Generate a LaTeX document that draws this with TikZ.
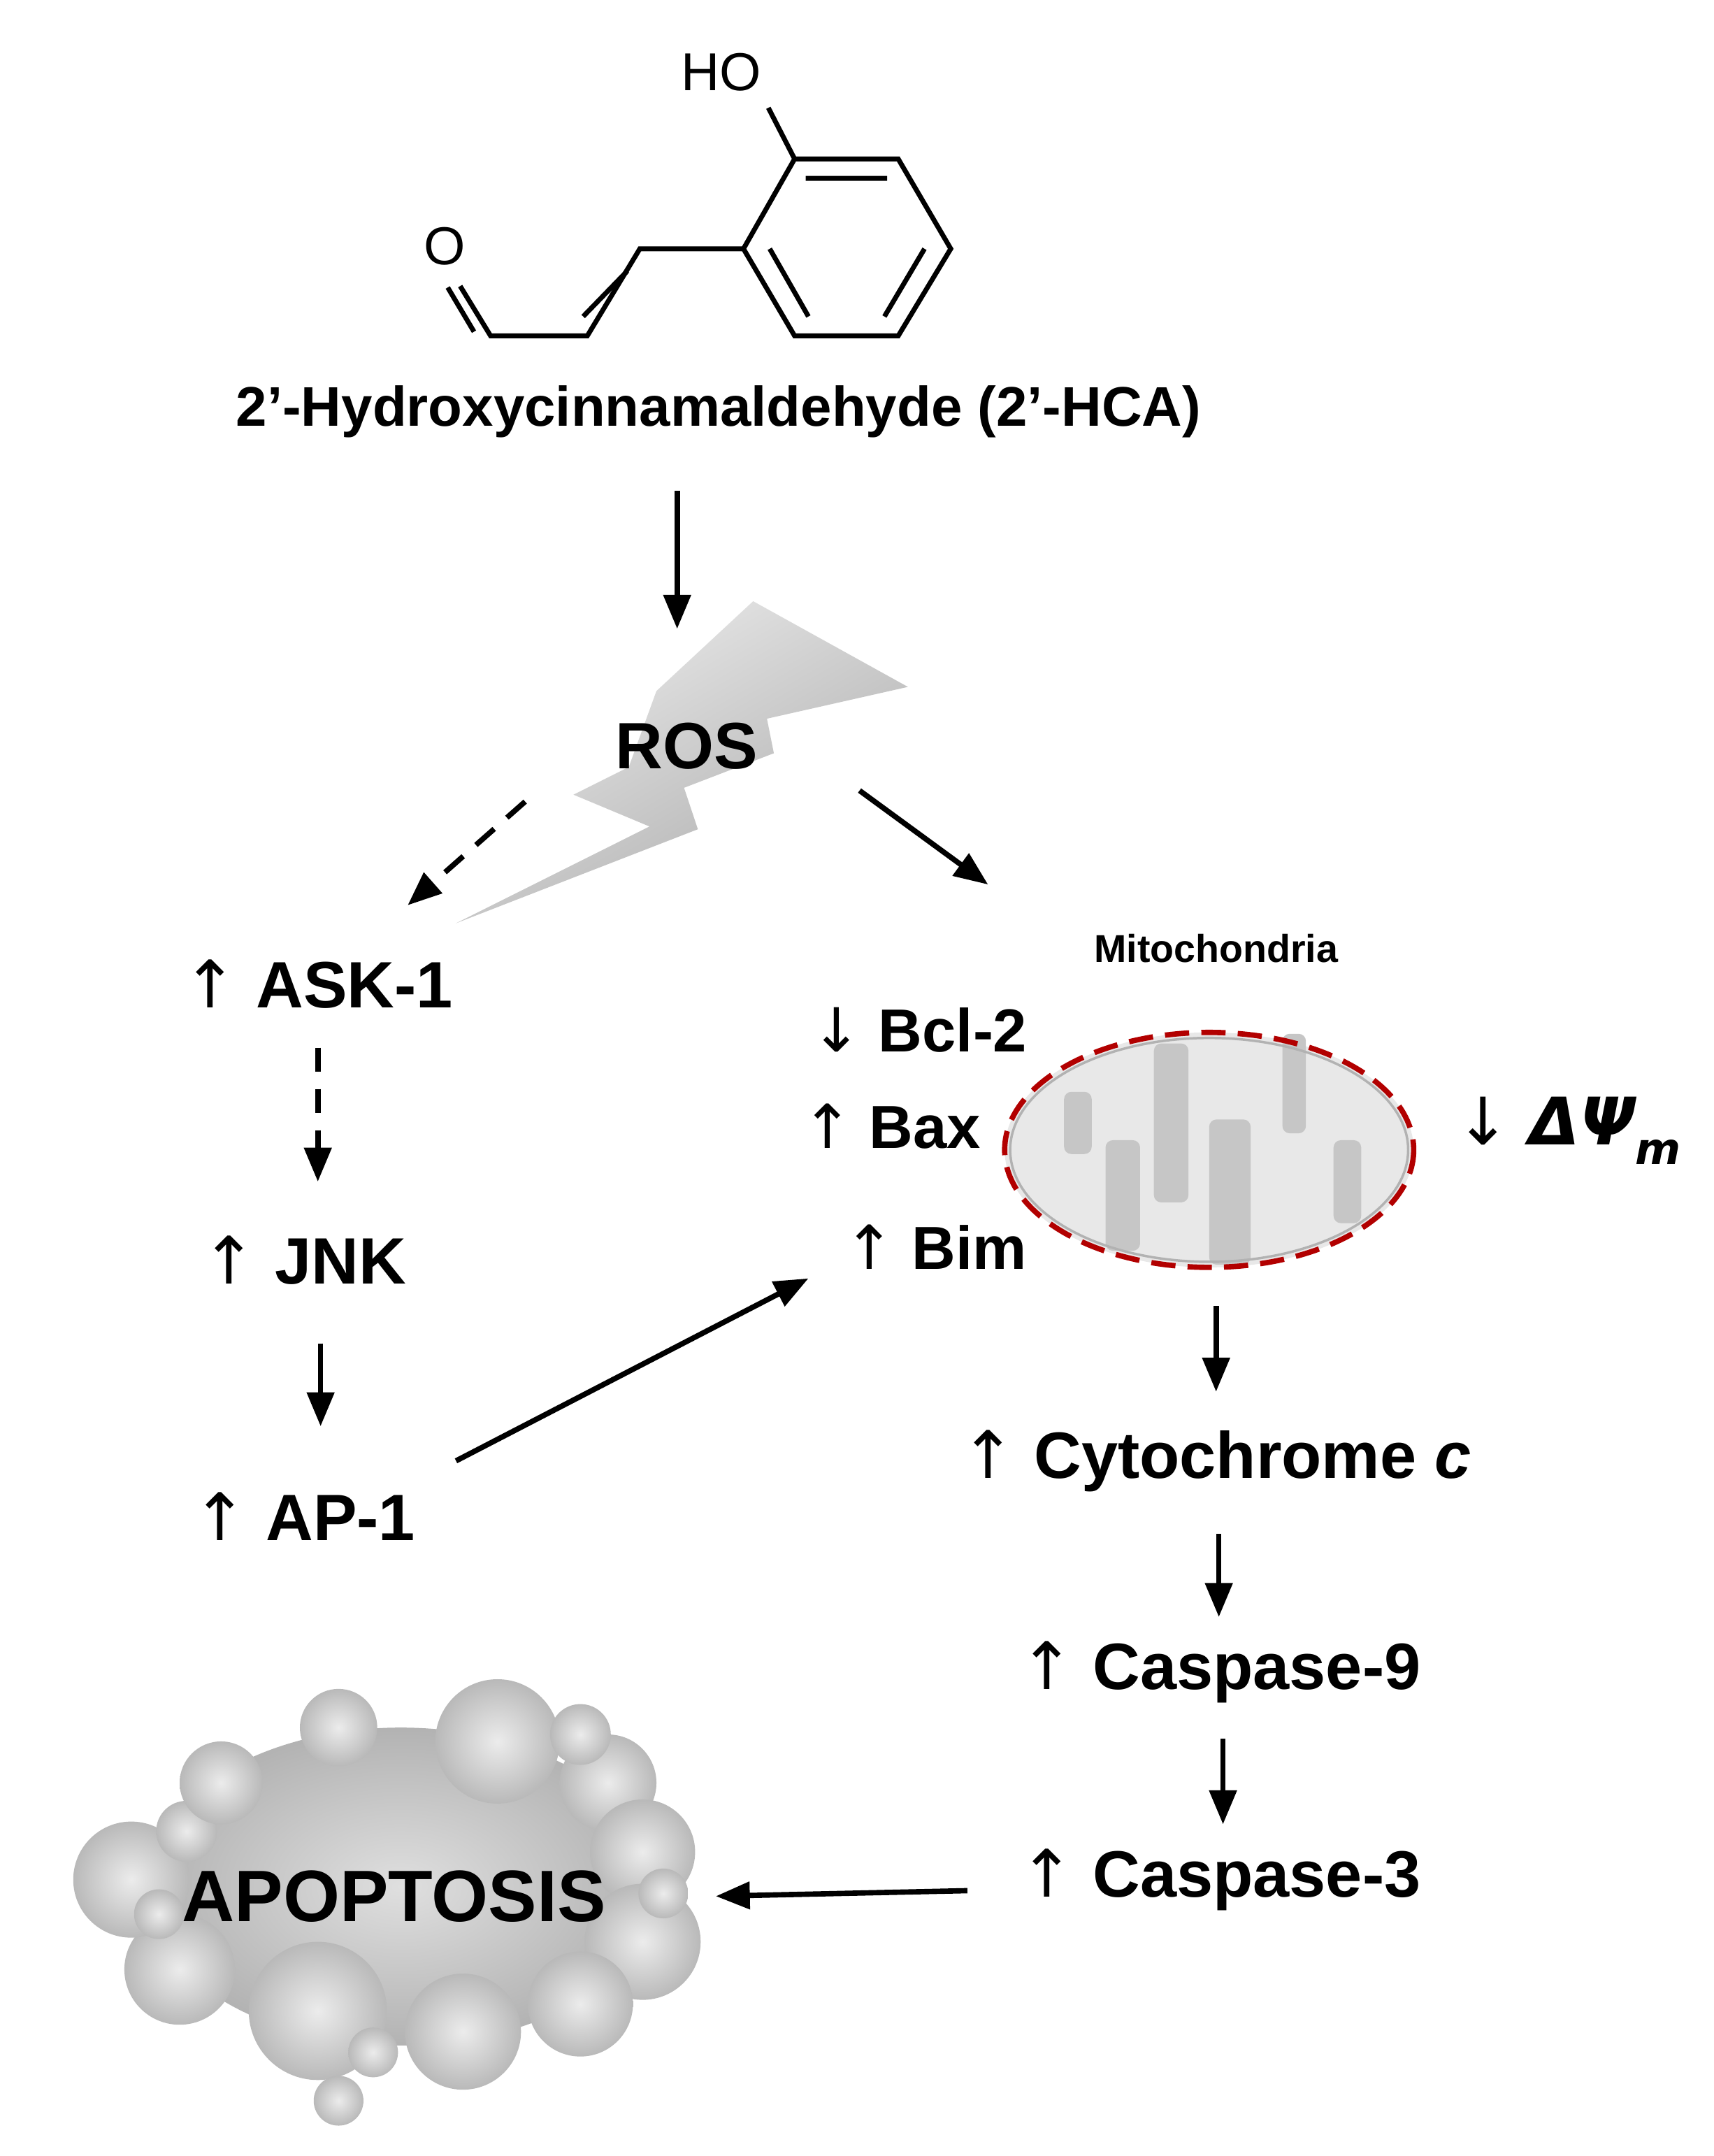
\documentclass[tikz,border=0pt]{standalone}
\usepackage{fontspec}
\setmainfont{Liberation Sans}
\newfontfamily\dv{DejaVu Sans}
\usetikzlibrary{arrows.meta,shapes.geometric}
\begin{document}
\begin{tikzpicture}[x=0.02cm,y=-0.02cm,
  lbl/.style={font=\bfseries\fontsize{27}{30}\selectfont},
  arr/.style={line width=2.2pt,-{Triangle[length=14pt,width=11pt]}},
  darr/.style={arr,dash pattern=on 10pt off 7pt},
  bond/.style={line width=2pt},
  cris/.style={fill=gray!45,draw=none,rounded corners=3pt},
  bub/.style={inner color=gray!15,outer color=gray!55,draw=none}]
\useasboundingbox (0,0) rectangle (1240,1560);
% molecule
\coordinate (r1) at (575,115); \coordinate (r2) at (650,115); \coordinate (r3) at (688,180);
\coordinate (r4) at (650,243); \coordinate (r5) at (575,243); \coordinate (r6) at (538,180);
\draw[bond] (r1)--(r2)--(r3)--(r4)--(r5)--(r6)--cycle;
\draw[bond] (583,129)--(642,129) (669,180)--(640,229) (585,229)--(557,180);
\node[font=\fontsize{22}{24}\selectfont] (ho) at (522,52) {HO};
\draw[bond] (r1)--(556,78);
\coordinate (c1) at (463,180); \coordinate (c2) at (425,243); \coordinate (c3) at (355,243);
\draw[bond] (r6)--(c1)--(c2)--(c3)--(333,207);
\draw[bond] (454,196)--(422,229);
\draw[bond] (343,240)--(324,208);
\node[font=\fontsize{22}{24}\selectfont] (o) at (322,178) {O};
\node[font=\bfseries\fontsize{23}{26}\selectfont] (hca) at (520,298) {2'-Hydroxycinnamaldehyde (2'-HCA)};
% ROS bolt
\shade[top color=gray!15,bottom color=gray!65,shading angle=30]
 (545,435)--(657,497)--(555,520)--(560,545)--(495,570)--(505,600)--(330,668)--(470,598)--(415,575)--(455,555)--(475,500)--cycle;
\node[lbl] (ros) at (497,540) {ROS};
\coordinate (hcab) at (490,355); \coordinate (rost) at (490,455);
\draw[arr] (hcab)--(rost);
\coordinate (d1) at (380,580); \coordinate (d2) at (295,655);
\draw[darr] (d1)--(d2);
\coordinate (m1) at (622,572); \coordinate (m2) at (715,640);
\draw[arr] (m1)--(m2);
% left pathway
\node[lbl] (ask) at (230,712) {{\dv\mdseries↑} ASK-1};
\node[lbl] (jnk) at (220,912) {{\dv\mdseries↑} JNK};
\node[lbl] (ap1) at (220,1097) {{\dv\mdseries↑} AP-1};
\draw[darr] (230,758)--(230,855);
\draw[arr] (232,972)--(232,1032);
\draw[arr] (330,1057)--(585,925);
% mitochondria
\node[font=\bfseries\fontsize{16}{18}\selectfont] (mitl) at (880,686) {Mitochondria};
\fill[gray!18] (875,832) ellipse (148 and 85);
\fill[cris] (770,790) rectangle (790,835);
\fill[cris] (800,825) rectangle (825,905);
\fill[cris] (835,755) rectangle (860,870);
\fill[cris] (875,810) rectangle (905,915);
\fill[cris] (928,748) rectangle (945,820);
\fill[cris] (965,825) rectangle (985,885);
\draw[gray!60,line width=1pt] (875,832) ellipse (144 and 81);
\draw[red!70!black,line width=2.2pt,dash pattern=on 10pt off 5pt] (875,832) ellipse (148 and 85);
\node[lbl,font=\bfseries\fontsize{25}{28}\selectfont] (bcl) at (665,745) {{\dv\mdseries↓} Bcl-2};
\node[lbl,font=\bfseries\fontsize{25}{28}\selectfont] (bax) at (645,815) {{\dv\mdseries↑} Bax};
\node[lbl,font=\bfseries\fontsize{25}{28}\selectfont] (bim) at (677,902) {{\dv\mdseries↑} Bim};
\node[lbl] (psi) at (1135,818) {{\dv\mdseries↓} {\dv\bfseries\itshape ΔΨ\raisebox{-8pt}{\fontsize{18}{20}\selectfont m}}};
% right pathway
\node[lbl] (cyt) at (880,1057) {{\dv\mdseries↑} Cytochrome \textit{c}};
\node[lbl] (c9) at (883,1210) {{\dv\mdseries↑} Caspase-9};
\node[lbl] (c3) at (883,1360) {{\dv\mdseries↑} Caspase-3};
\draw[arr] (880,945)--(880,1007);
\draw[arr] (882,1110)--(882,1170);
\draw[arr] (885,1258)--(885,1320);
% apoptosis blob
\shade[inner color=gray!25,outer color=gray!60,draw=none] (290,1365) ellipse (185 and 115);
\foreach \x/\y/\r in {245/1250/28,360/1260/45,440/1290/35,420/1255/22,465/1340/38,465/1405/42,420/1450/38,335/1470/42,230/1455/50,270/1485/18,245/1520/18,130/1425/40,95/1360/42,135/1325/22,115/1385/18,160/1290/30,480/1370/18}
  \shade[bub] (\x,\y) circle (\r);
\node[lbl,font=\bfseries\fontsize{30}{32}\selectfont] (apo) at (285,1372) {APOPTOSIS};
\draw[arr] (700,1368)--(518,1372);
\end{tikzpicture}
\end{document}
